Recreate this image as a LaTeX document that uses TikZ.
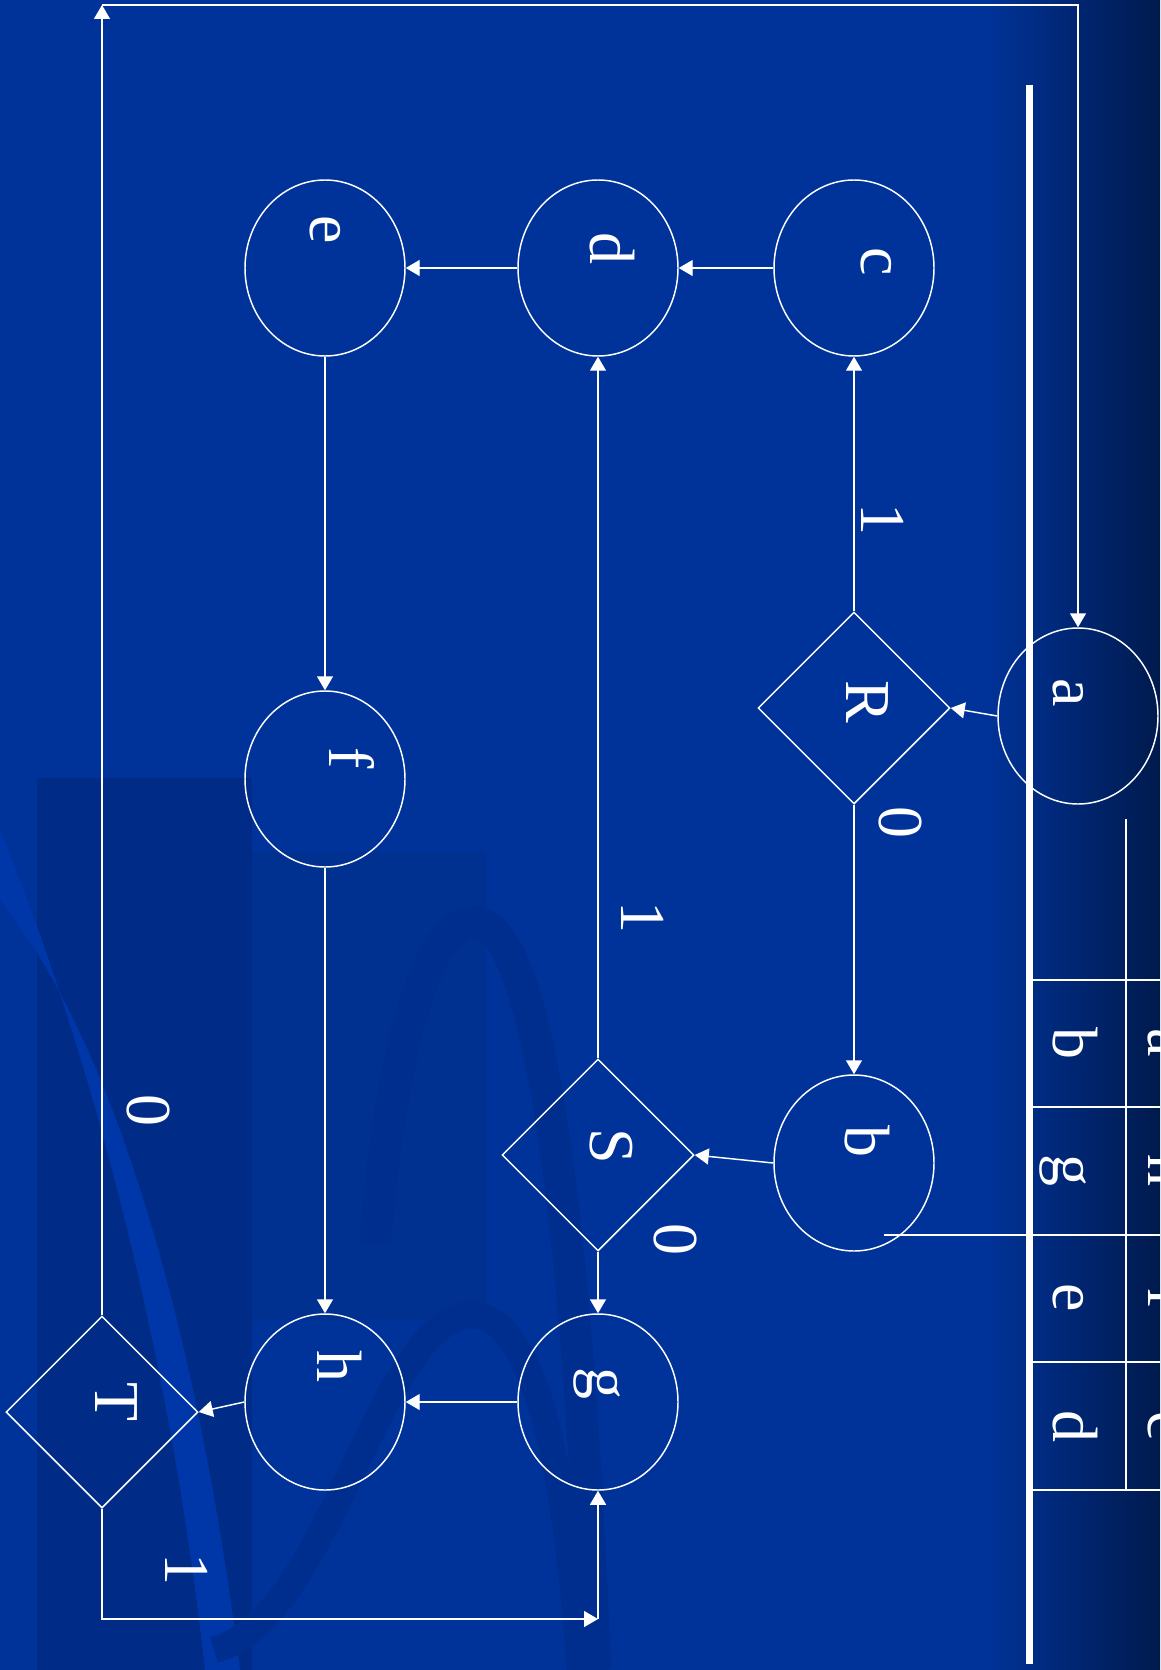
\documentclass[tikz,border=0pt]{standalone}
\usepackage{fontspec}
\setmainfont{Liberation Serif}
\usetikzlibrary{arrows.meta,positioning,shapes.geometric}
\definecolor{slBlue}{HTML}{003399}
\definecolor{slDeep}{HTML}{001A4D}
\definecolor{slShade}{HTML}{002C88}
\definecolor{slShadeB}{HTML}{003090}
\definecolor{slArc}{HTML}{002E8E}
\definecolor{slLight}{HTML}{0037A8}
\newcommand{\lblsize}{\fontsize{48}{50}\selectfont}
\tikzset{
  % State ellipse
  stbox/.style={ellipse,draw=white,line width=1.1pt,
    minimum width=120pt,minimum height=132pt,inner sep=0pt},
  % Decision diamond
  dcbox/.style={diamond,draw=white,line width=1.1pt,
    minimum width=144pt,minimum height=144pt,inner sep=0pt},
  % Rotated letters
  lbl/.style={rotate=-90,text=white,font=\lblsize,inner sep=0pt},
  % Arrows and plain rules
  arr/.style={-{Triangle[width=12pt,length=10.5pt]},line width=1.1pt,draw=white},
  rule/.style={draw=white,line width=1.1pt},
}

\begin{document}
\begin{tikzpicture}[x=0.75pt,y=-0.75pt]
  \useasboundingbox (0,0) rectangle (1160,1670);
  \clip (0,0) rectangle (1160,1670);
  %% --- BACKGROUND ---
  \fill[slBlue] (0,0) rectangle (1160,1670);
  \shade[left color=slBlue,right color=slDeep] (985,0) rectangle (1160,1670);
  \fill[slShade] (37,778) rectangle (252,1670);
  \fill[slShadeB] (252,852) rectangle (486,1320);
  \fill[slLight] (0,830) .. controls (90,1050) and (170,1350) .. (205,1670)
    -- (240,1670) .. controls (200,1350) and (120,1050) .. (0,900) -- cycle;
  \draw[slArc,line width=24pt] (375,1245) .. controls (395,1010) and (435,922) .. (475,922)
    .. controls (530,922) and (575,1150) .. (595,1670);
  \draw[slArc,line width=20pt] (214,1650) .. controls (330,1620) and (380,1315) .. (472,1315)
    .. controls (530,1315) and (565,1450) .. (580,1670);

  %% --- STATES ---
  \node[stbox] (a) at (1078,716) {};
  \node[dcbox] (R) at (854,708) {};
  \node[stbox] (c) at (854,268) {};
  \node[stbox] (d) at (598,268) {};
  \node[stbox] (e) at (325,268) {};
  \node[stbox] (f) at (325,779) {};
  \node[stbox] (b) at (854,1163) {};
  \node[dcbox] (S) at (598,1155) {};
  \node[stbox] (g) at (598,1402) {};
  \node[stbox] (h) at (325,1402) {};
  \node[dcbox] (T) at (102,1412) {};

  \node[lbl] (la) at (1068,693) {a};
  \node[lbl] (lR) at (867,702) {R};
  \node[lbl] (lc) at (876,262) {c};
  \node[lbl] (ld) at (612,248) {d};
  \node[lbl] (le) at (325,230) {e};
  \node[lbl] (lf) at (352,758) {f};
  \node[lbl] (lb) at (867,1141) {b};
  \node[lbl] (lS) at (611,1146) {S};
  \node[lbl] (lg) at (597,1383) {g};
  \node[lbl] (lh) at (340,1366) {h};
  \node[lbl] (lT) at (116,1402) {T};

  %% --- BRANCH LABELS ---
  \node[lbl] (r1) at (883,519) {1};
  \node[lbl] (r0) at (900,822) {0};
  \node[lbl] (s1) at (643,917) {1};
  \node[lbl] (s0) at (675,1239) {0};
  \node[lbl] (t0) at (148,1110) {0};
  \node[lbl] (t1) at (187,1569) {1};

  %% --- CONNECTORS ---
  \draw[arr] (a.west) -- (R.east);
  \draw[arr] (R.north) -- (c.south);
  \draw[arr] (R.south) -- (b.north);
  \draw[arr] (c.west) -- (d.east);
  \draw[arr] (d.west) -- (e.east);
  \draw[arr] (e.south) -- (f.north);
  \draw[arr] (f.south) -- (h.north);
  \draw[arr] (b.west) -- (S.east);
  \draw[arr] (S.north) -- (d.south);
  \draw[arr] (S.south) -- (g.north);
  \draw[arr] (g.west) -- (h.east);
  \draw[arr] (h.west) -- (T.east);

  % T back to a over the top, T on to g along the bottom
  \coordinate (topL) at (102,5);
  \coordinate (botR) at (598,1619);
  \draw[arr] (T.north) -- (topL);
  \draw[arr] (topL) -| (a.north);
  \draw[arr] (T.south) |- (botR);
  \draw[arr] (botR) -- (g.south);

  %% --- TABLE ---
  \draw[draw=white,line width=5.25pt] (1029,85) -- (1029,1664);
  \draw[rule] (1126,819) -- (1126,1490);
  \foreach \yy in {980,1107,1362,1490}
    \draw[rule] (1033,\yy) -- (1160,\yy);
  \draw[rule] (884,1235) -- (1160,1235);
  \foreach \yy/\la/\lb in {1043/b/a,1170/g/h,1298/e/f,1426/d/c}{
    \node[lbl,anchor=base] (ta\la) at (1053,\yy) {\la};
    \node[lbl,anchor=base] (tb\lb) at (1148,\yy) {\lb};
  }
\end{tikzpicture}
\end{document}
